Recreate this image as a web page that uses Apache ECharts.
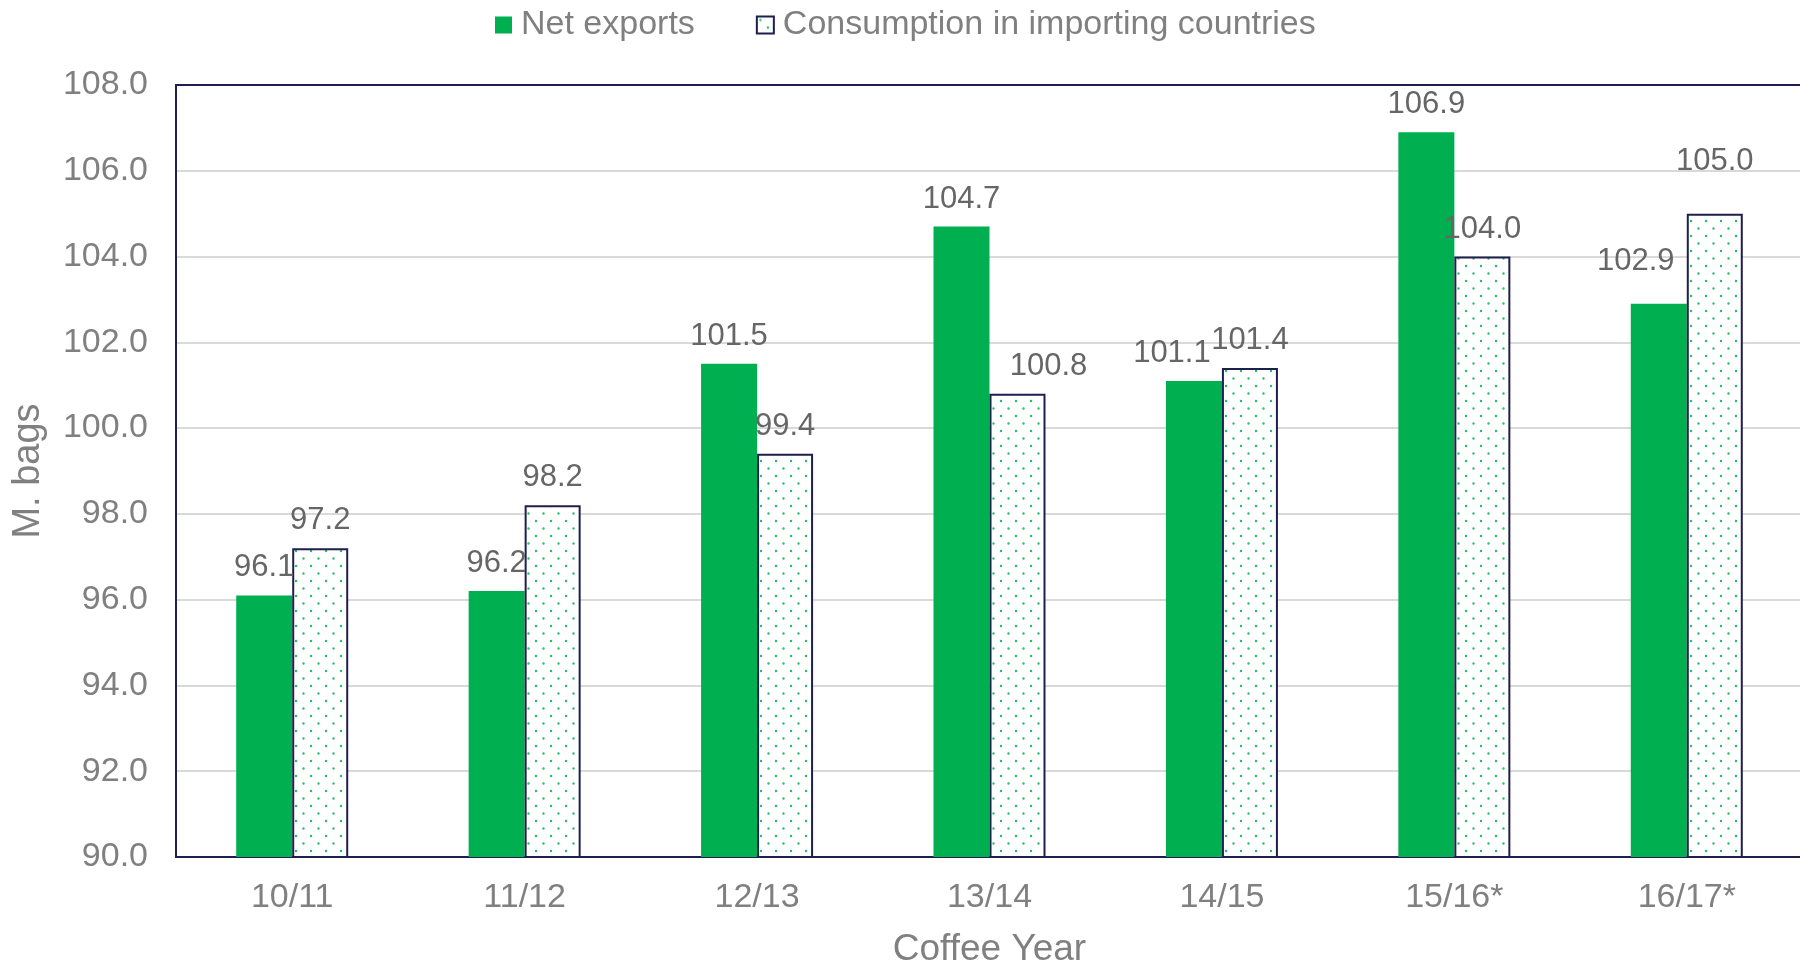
<!DOCTYPE html>
<html>
<head>
<meta charset="utf-8">
<script src="https://cdn.jsdelivr.net/npm/echarts@6/dist/echarts.min.js"></script>
<style>
  html, body { margin: 0; padding: 0; background: #fff; }
  #chart { width: 1800px; height: 967px; }
</style>
</head>
<body>
<div id="chart"></div>
<script>
// data
var years = ['10/11', '11/12', '12/13', '13/14', '14/15', '15/16*', '16/17*']
var netExports = [96.1, 96.2, 101.5, 104.7, 101.1, 106.9, 102.9]
var consumption = [97.2, 98.2, 99.4, 100.8, 101.4, 104.0, 105.0]
var seriesNames = ['Net exports', 'Consumption in importing countries']

var font = '"Liberation Sans", Arial, Helvetica, sans-serif'
var navy = '#1f1f4e'
var gray = '#808080'

// a few labels were nudged by hand in the original
var exportLabelShift = { 4: [-22, 0], 6: [-23, -15] }
var consumptionLabelShift = { 3: [31, 0], 6: [0, -25] }

// dotted fill for the consumption bars
function dotPattern () {
  var c = document.createElement('canvas')
  c.width = 15
  c.height = 15
  var ctx = c.getContext('2d')
  ctx.fillStyle = '#fff'
  ctx.fillRect(0, 0, 15, 15)
  ctx.fillStyle = '#22c063'
  ctx.beginPath()
  ctx.arc(3.5, 3.5, 1.2, 0, Math.PI * 2)
  ctx.arc(11, 11, 1.2, 0, Math.PI * 2)
  ctx.fill()
  return c
}

var label = {
  show: true,
  position: 'top',
  distance: 12,
  color: '#666',
  fontSize: 31,
  fontFamily: font,
  formatter: function (p) { return p.value.toFixed(1) }
}

function withShift (values, shifts) {
  return values.map(function (v, i) {
    if (!shifts[i]) return v
    return { value: v, label: { offset: shifts[i] } }
  })
}

var chart = echarts.init(document.getElementById('chart'))

chart.setOption({
  animation: false,
  textStyle: { fontFamily: font },
  legend: {
    top: 3,
    left: 490,
    itemWidth: 17,
    itemHeight: 17,
    itemGap: 61,
    icon: 'rect',
    textStyle: { color: gray, fontSize: 34, fontFamily: font, padding: [0, 0, 0, 4] },
    data: seriesNames
  },
  grid: {
    left: 176,
    right: -3,
    top: 85,
    bottom: 110,
    outerBoundsMode: 'none'
  },
  xAxis: [{
    type: 'category',
    data: years,
    name: 'Coffee Year',
    nameLocation: 'middle',
    nameGap: 74,
    nameTextStyle: { color: gray, fontSize: 37, fontFamily: font },
    axisLine: { lineStyle: { color: navy, width: 2 } },
    axisTick: { show: false },
    axisLabel: { color: gray, fontSize: 34, margin: 24, fontFamily: font }
  }, {
    // top frame line
    type: 'category',
    position: 'top',
    data: years,
    axisLine: { lineStyle: { color: navy, width: 2 } },
    axisTick: { show: false },
    axisLabel: { show: false }
  }],
  yAxis: {
    type: 'value',
    min: 90,
    max: 108,
    interval: 2,
    name: 'M. bags',
    nameLocation: 'middle',
    nameGap: 128,
    nameTextStyle: { color: gray, fontSize: 38, fontFamily: font },
    axisLine: { show: true, lineStyle: { color: navy, width: 2 } },
    axisTick: { show: false },
    axisLabel: {
      color: gray,
      fontSize: 34,
      margin: 28,
      fontFamily: font,
      formatter: function (v) { return v.toFixed(1) }
    },
    splitLine: { lineStyle: { color: '#d9d9d9', width: 2 } }
  },
  series: [
    {
      name: seriesNames[0],
      type: 'bar',
      data: withShift(netExports, exportLabelShift),
      barWidth: 56,
      barGap: '0%',
      itemStyle: { color: '#00b050' },
      label: label
    },
    {
      name: seriesNames[1],
      type: 'bar',
      data: withShift(consumption, consumptionLabelShift),
      barWidth: 56,
      itemStyle: {
        color: { image: dotPattern(), repeat: 'repeat' },
        borderColor: navy,
        borderWidth: 2
      },
      label: label
    }
  ]
})
</script>
</body>
</html>
